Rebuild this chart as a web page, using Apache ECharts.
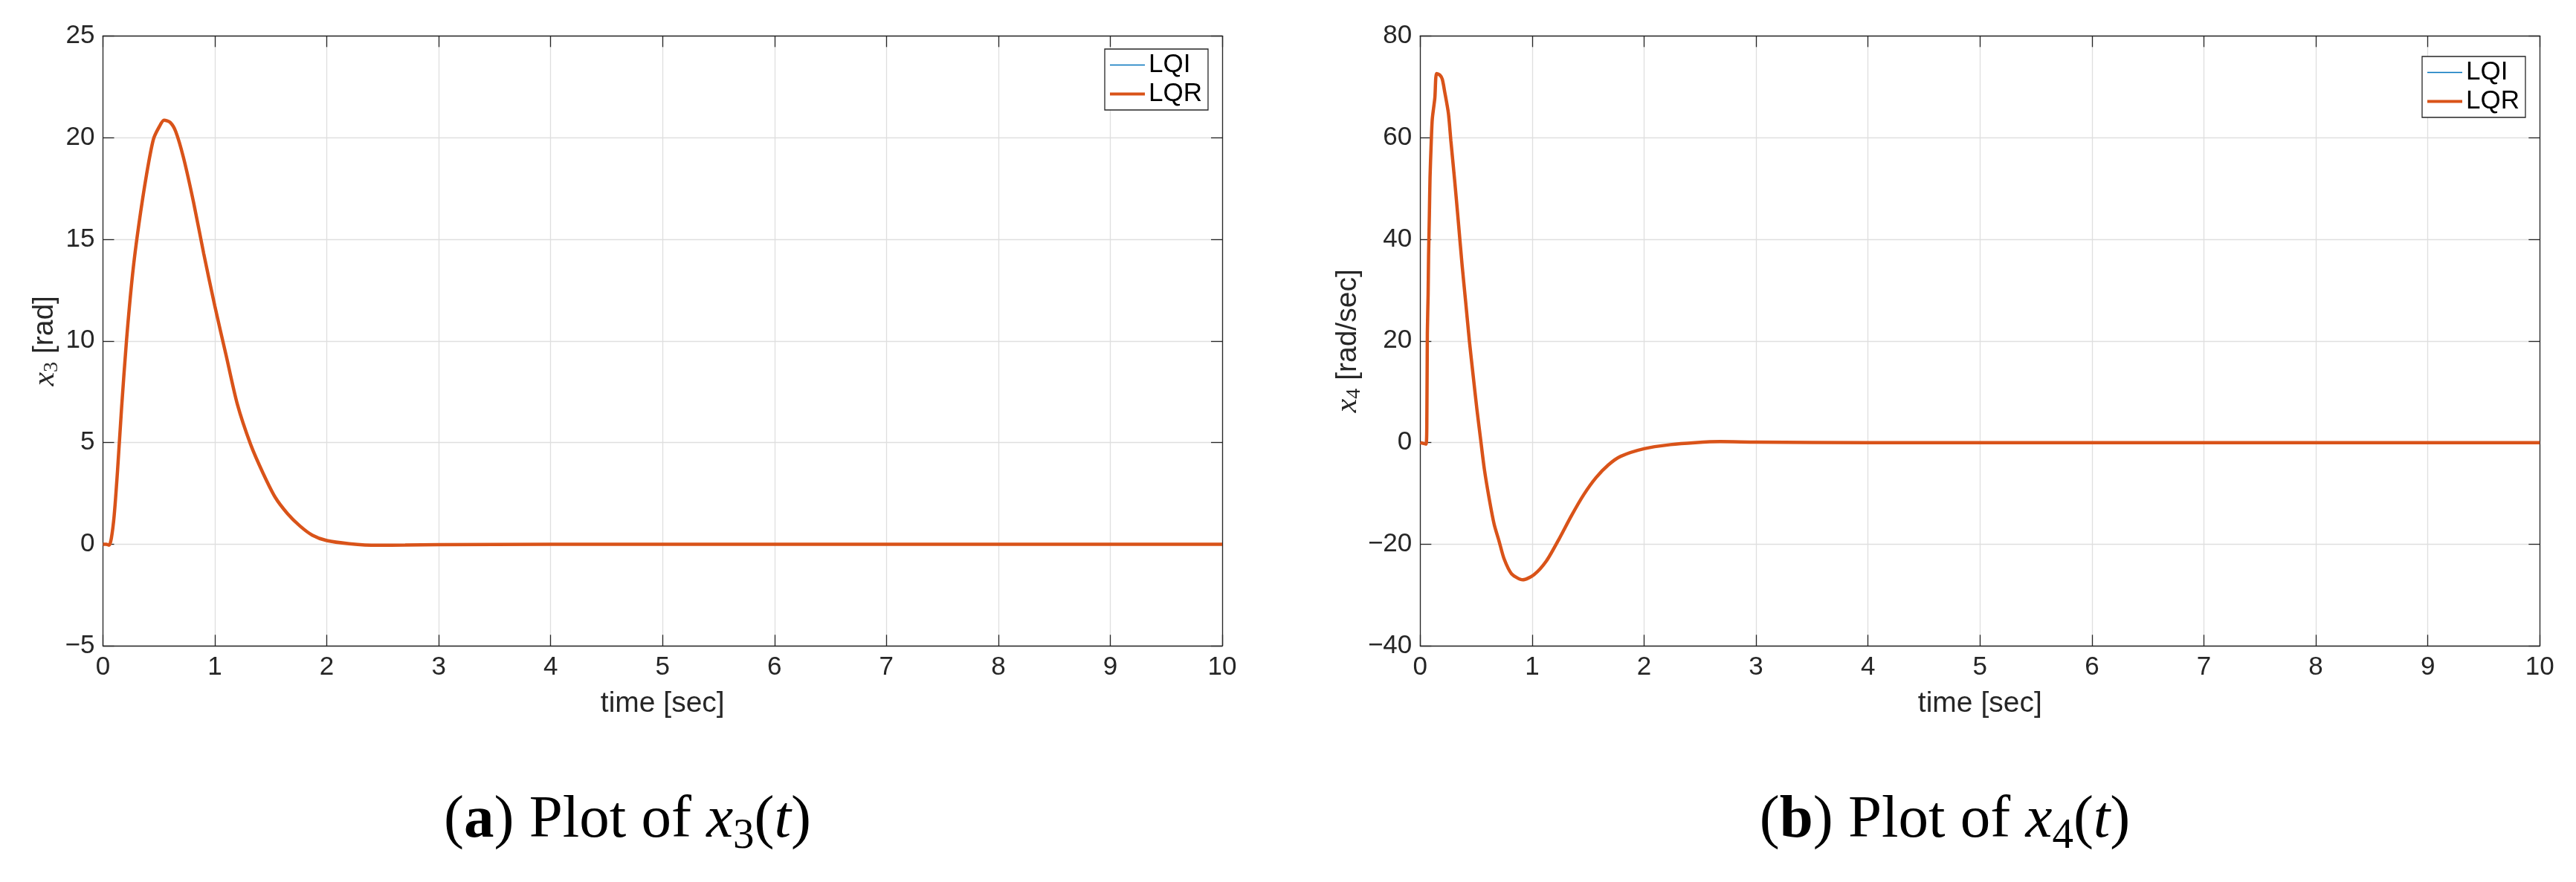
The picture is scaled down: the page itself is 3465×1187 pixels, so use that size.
<!DOCTYPE html>
<html>
<head>
<meta charset="utf-8">
<script src="https://cdn.jsdelivr.net/npm/echarts@6/dist/echarts.min.js"></script>
<style>
html,body{margin:0;padding:0;background:#fff}
#main{width:3465px;height:1187px}
</style>
</head>
<body>
<div id="main"></div>
<script>
// x3(t)
var t3 = [0, 0.03, 0.055, 0.075, 0.1, 0.13, 0.165, 0.21, 0.265, 0.32, 0.39, 0.45, 0.5, 0.546, 0.6, 0.65, 0.72, 0.81, 0.9, 1.0, 1.1, 1.2, 1.32, 1.43, 1.54, 1.65, 1.76, 1.87, 2.0, 2.2, 2.45, 2.7, 3.0, 4, 5, 6, 7, 8, 9, 10];
var x3 = [0, 0, -0.05, 0.3, 1.4, 3.6, 6.6, 10.0, 13.3, 15.7, 18.2, 19.9, 20.5, 20.85, 20.75, 20.3, 19.0, 16.8, 14.3, 11.7, 9.3, 6.9, 4.9, 3.5, 2.3, 1.5, 0.9, 0.45, 0.18, 0.03, -0.05, -0.04, -0.02, 0, 0, 0, 0, 0, 0, 0];

// x4(t)
var t4 = [0, 0.053, 0.06, 0.064, 0.071, 0.075, 0.082, 0.088, 0.097, 0.108, 0.131, 0.146, 0.175, 0.197, 0.219, 0.252, 0.274, 0.307, 0.341, 0.374, 0.407, 0.44, 0.473, 0.507, 0.54, 0.573, 0.617, 0.661, 0.706, 0.75, 0.816, 0.916, 1.016, 1.127, 1.237, 1.348, 1.459, 1.57, 1.68, 1.791, 2.0, 2.235, 2.456, 2.68, 3.0, 4, 5, 6, 7, 8, 9, 10];
var x4 = [0, -0.3, 6.1, 21.6, 29.2, 36.7, 44.7, 52.2, 58.1, 63.6, 67.8, 72.6, 72.3, 71.5, 69.0, 64.8, 59.4, 51.8, 43.4, 35.0, 27.5, 19.9, 13.2, 6.5, 0.6, -5.2, -11.1, -16.1, -19.5, -22.9, -25.8, -27.0, -26.0, -23.3, -19.1, -14.5, -10.3, -6.9, -4.4, -2.7, -1.2, -0.4, 0.0, 0.2, 0.1, 0, 0, 0, 0, 0, 0, 0];

var timeTicks = [0, 1, 2, 3, 4, 5, 6, 7, 8, 9, 10];
var x3Ticks = [-5, 0, 5, 10, 15, 20, 25];
var x4Ticks = [-40, -20, 0, 20, 40, 60, 80];
var names = ['LQI', 'LQR'];

var ink = '#262626';
var sans = 'Liberation Sans';
var serif = 'Liberation Serif';
var blue = '#0072BD', orange = '#D95319';

function pairs(t, v) {
    return t.map(function (tt, i) { return [tt, v[i]]; });
}
function minus(v) {
    return String(v).replace('-', '\u2212');
}

function axis(kind, grid, ticks, pos, main) {
    return {
        type: 'value',
        gridIndex: grid,
        position: pos,
        min: ticks[0],
        max: ticks[ticks.length - 1],
        interval: ticks[1] - ticks[0],
        axisLine: { show: true, onZero: false, lineStyle: { color: ink, width: 1.3 } },
        axisTick: { show: true, inside: true, length: 15, lineStyle: { color: ink, width: 1.3 } },
        axisLabel: {
            show: main, margin: kind == 'x' ? 12 : 11,
            fontFamily: sans, fontSize: 35, color: ink, formatter: minus
        },
        splitLine: { show: main, lineStyle: { color: '#dfdfdf', width: 1.3 } }
    };
}

var yRich = {
    i: { fontFamily: serif, fontStyle: 'italic', fontSize: 42, lineHeight: 46, color: ink },
    s: { fontFamily: serif, fontSize: 28, lineHeight: 24, verticalAlign: 'bottom', color: ink },
    u: { fontFamily: sans, fontSize: 39, lineHeight: 46, color: ink }
};

var xAxes = [
    axis('x', 0, timeTicks, 'bottom', true),
    axis('x', 0, timeTicks, 'top', false),
    axis('x', 1, timeTicks, 'bottom', true),
    axis('x', 1, timeTicks, 'top', false)
];
[0, 2].forEach(function (k) {
    xAxes[k].name = 'time [sec]';
    xAxes[k].nameLocation = 'middle';
    xAxes[k].nameGap = 58;
    xAxes[k].nameTextStyle = { fontFamily: sans, fontSize: 39, color: ink };
});

var yAxes = [
    axis('y', 0, x3Ticks, 'left', true),
    axis('y', 0, x3Ticks, 'right', false),
    axis('y', 1, x4Ticks, 'left', true),
    axis('y', 1, x4Ticks, 'right', false)
];
yAxes[0].name = '{i|x}{s|3}{u| [rad]}';
yAxes[0].nameGap = 54;
yAxes[2].name = '{i|x}{s|4}{u| [rad/sec]}';
yAxes[2].nameGap = 71;
[0, 2].forEach(function (k) {
    yAxes[k].nameLocation = 'middle';
    yAxes[k].nameTextStyle = { rich: yRich };
});

function legend(left, top) {
    return {
        data: [
            { name: names[0], lineStyle: { width: 1.3, color: blue } },
            { name: names[1], lineStyle: { width: 4, color: orange } }
        ],
        orient: 'vertical', left: left, top: top,
        itemWidth: 47, itemHeight: 20, itemGap: 0,
        padding: [2, 8, 2, 5],
        borderColor: ink, borderWidth: 1.3, backgroundColor: '#fff',
        selectedMode: false,
        itemStyle: { opacity: 0, color: 'rgba(0,0,0,0)', borderWidth: 0 },
        textStyle: { fontFamily: sans, fontSize: 35, color: '#000', lineHeight: 39 }
    };
}

function line(name, xi, data, color, width, z) {
    return {
        name: name, type: 'line',
        xAxisIndex: xi, yAxisIndex: xi,
        data: data, symbol: 'none', showSymbol: false,
        smooth: 0.25,
        lineStyle: { color: color, width: width },
        itemStyle: { color: color },
        z: z
    };
}

var capRich = {
    p: { fontFamily: serif, fontSize: 81, lineHeight: 100, color: '#000' },
    b: { fontFamily: serif, fontSize: 81, lineHeight: 100, fontWeight: 'bold', color: '#000' },
    i: { fontFamily: serif, fontSize: 81, lineHeight: 100, fontStyle: 'italic', color: '#000' },
    s: { fontFamily: serif, fontSize: 57, lineHeight: 54, verticalAlign: 'bottom', color: '#000' }
};
function caption(x, letter, sub) {
    return {
        type: 'text', x: x, y: 1105,
        style: {
            text: '{p|(}{b|' + letter + '}{p|) Plot of }{i|x}{s|' + sub + '}{p|(}{i|t}{p|)}',
            rich: capRich, align: 'center', verticalAlign: 'middle'
        }
    };
}

var chart = echarts.init(document.getElementById('main'), null, { renderer: 'canvas' });
chart.setOption({
    animation: false,
    backgroundColor: '#fff',
    grid: [
        { left: 138.5, top: 48.3, width: 1505.5, height: 821 },
        { left: 1910.3, top: 48.3, width: 1506, height: 821 }
    ],
    xAxis: xAxes,
    yAxis: yAxes,
    legend: [legend(1486, 66), legend(3258, 76)],
    series: [
        line('LQI', 0, pairs(t3, x3), blue, 1.3, 2),
        line('LQR', 0, pairs(t3, x3), orange, 4.5, 3),
        line('LQI', 2, pairs(t4, x4), blue, 1.3, 2),
        line('LQR', 2, pairs(t4, x4), orange, 4.5, 3)
    ],
    graphic: [caption(844, 'a', '3'), caption(2616, 'b', '4')]
});
</script>
</body>
</html>
